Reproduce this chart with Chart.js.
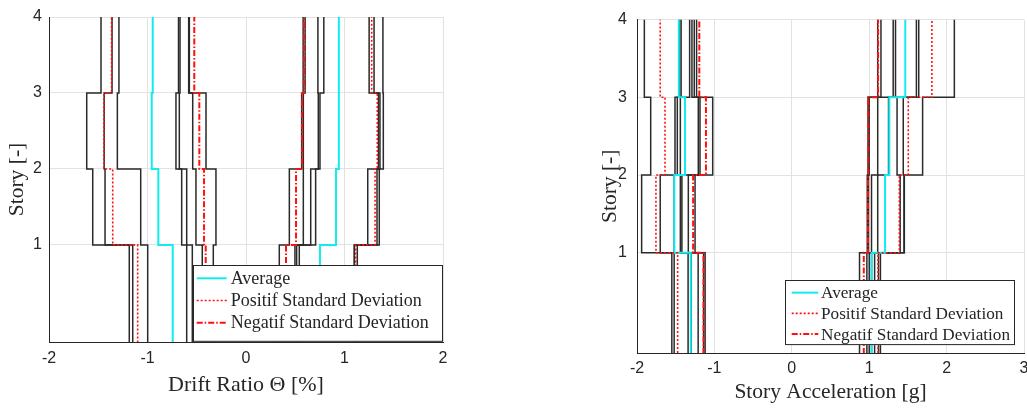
<!DOCTYPE html>
<html>
<head>
<meta charset="utf-8">
<script src="https://cdn.jsdelivr.net/npm/chart.js@4.4.1/dist/chart.umd.min.js"></script>
<style>
html,body{margin:0;padding:0;background:#fff;overflow:hidden;width:1027px;height:408px;}
#wrap{position:relative;width:1027px;height:408px;overflow:hidden;background:#fff;}
canvas{position:absolute;top:0;}
#c1{left:0;width:520px;height:408px;}
#c2{left:520px;width:540px;height:408px;}
</style>
</head>
<body>
<div id="wrap">
<canvas id="c1" width="520" height="408"></canvas>
<canvas id="c2" width="540" height="408"></canvas>
</div>
<script>
// ---------------- data ----------------
const STORY_TICKS = [1, 2, 3, 4];
const STORY_TICK_LABELS = ['1', '2', '3', '4'];
const SEG_BOTTOM = [-0.6, 1, 2, 3];   // story segment lower level
const SEG_TOP = [1, 2, 3, 4];         // story segment upper level
const DRIFT_X_TICKS = [-2, -1, 0, 1, 2];
const ACC_X_TICKS = [-2, -1, 0, 1, 2, 3];
const LEGEND_LABELS = ['Average', 'Positif Standard Deviation', 'Negatif Standard Deviation'];

// Drift ratio [%]; each record: stories 1..4
const driftNegRecords = [
  [-1.185, -1.556, -1.617, -1.472],
  [-1.150, -1.431, -1.440, -1.360],
  [-0.998, -1.069, -1.306, -1.290],
  [-0.602, -0.653, -0.711, -0.685],
  [-0.545, -0.602, -0.677, -0.670],
  [-0.444, -0.508, -0.541, -0.575],
  [-0.332, -0.305, -0.406, -0.582]
];
const driftPosRecords = [
  [0.338, 0.440, 0.565, 0.580],
  [0.497, 0.582, 0.582, 0.600],
  [0.514, 0.657, 0.734, 0.730],
  [0.541, 0.707, 0.751, 0.790],
  [1.100, 1.236, 1.345, 1.250],
  [1.100, 1.330, 1.360, 1.300],
  [1.130, 1.353, 1.394, 1.390]
];
const driftNegAvg = [-0.744, -0.890, -0.957, -0.947];
const driftNegStdPos = [-1.100, -1.353, -1.442, -1.365];
const driftNegStdNeg = [-0.409, -0.426, -0.474, -0.525];
const driftPosAvg = [0.751, 0.914, 0.940, 0.944];
const driftPosStdPos = [1.114, 1.310, 1.333, 1.276];
const driftPosStdNeg = [0.406, 0.508, 0.570, 0.590];

// Story acceleration [g]; each record: stories 1..4
const accNegRecords = [
  [-1.550, -1.940, -1.823, -1.905],
  [-1.520, -1.700, -1.509, -1.450],
  [-1.340, -1.520, -1.479, -1.430],
  [-1.300, -1.440, -1.440, -1.320],
  [-1.210, -1.420, -1.208, -1.290],
  [-1.140, -1.337, -1.186, -1.260],
  [-1.120, -1.250, -1.022, -1.230]
];
const accPosRecords = [
  [0.875, 0.975, 0.985, 1.110],
  [0.970, 0.990, 1.000, 1.152],
  [1.000, 1.030, 1.110, 1.310],
  [1.030, 1.110, 1.250, 1.340],
  [1.070, 1.400, 1.360, 1.610],
  [1.120, 1.450, 1.440, 1.640],
  [1.145, 1.454, 1.690, 2.100]
];
const accNegAvg = [-1.306, -1.518, -1.380, -1.460];
const accNegStdPos = [-1.475, -1.755, -1.638, -1.700];
const accNegStdNeg = [-1.140, -1.275, -1.109, -1.195];
const accPosAvg = [1.032, 1.205, 1.260, 1.466];
const accPosStdPos = [1.115, 1.389, 1.505, 1.810];
const accPosStdNeg = [0.930, 0.985, 0.988, 1.115];

// ---------------- styles ----------------
const INK = '#262626';
const GRID = '#e2e2e2';
const STYLE_REC = {borderColor: '#2a2a2a', borderWidth: 1.5, borderDash: []};
const STYLE_AVG = {borderColor: '#12ecec', borderWidth: 2, borderDash: []};
const STYLE_SDP = {borderColor: '#ff1010', borderWidth: 1.6, borderDash: [2, 2]};
const STYLE_SDN = {borderColor: '#ff1010', borderWidth: 2, borderDash: [6, 2, 1.5, 2]};

function stepPoints(values) {
  const pts = [];
  values.forEach((v, s) => {
    pts.push({x: v, y: SEG_BOTTOM[s]});
    pts.push({x: v, y: SEG_TOP[s]});
  });
  return pts;
}
function ds(values, style, order, legendLabel) {
  return Object.assign({
    data: stepPoints(values), showLine: true, pointRadius: 0, pointHitRadius: 0,
    tension: 0, fill: false, order: order, legendLabel: legendLabel || null
  }, style);
}
function buildDatasets(negRec, posRec, nAvg, nSp, nSn, pAvg, pSp, pSn) {
  const out = [];
  out.push(ds(nAvg, STYLE_AVG, 3, LEGEND_LABELS[0]));
  out.push(ds(nSp, STYLE_SDP, 2, LEGEND_LABELS[1]));
  out.push(ds(nSn, STYLE_SDN, 1, LEGEND_LABELS[2]));
  out.push(ds(pAvg, STYLE_AVG, 3));
  out.push(ds(pSp, STYLE_SDP, 2));
  out.push(ds(pSn, STYLE_SDN, 1));
  negRec.forEach(r => out.push(ds(r, STYLE_REC, 10)));
  posRec.forEach(r => out.push(ds(r, STYLE_REC, 10)));
  return out;
}

const boxLegend = {
  id: 'boxLegend',
  afterDraw(chart, args, o) {
    const ctx = chart.ctx, ca = chart.chartArea;
    const items = chart.data.datasets.filter(d => d.legendLabel);
    ctx.save();
    ctx.font = o.fontSize + 'px "Liberation Serif", serif';
    const tw = Math.max.apply(null, items.map(it => ctx.measureText(it.legendLabel).width));
    const w = o.padL + o.sample + o.gap + tw + o.padR;
    const h = o.padT + o.row * items.length + o.padB;
    const x = Math.round(ca.right - o.offRight - w);
    const y = Math.round(ca.bottom - o.offBottom - h);
    ctx.fillStyle = '#fff';
    ctx.fillRect(x, y, w, h);
    ctx.strokeStyle = INK; ctx.lineWidth = 1;
    ctx.strokeRect(x + 0.5, y + 0.5, Math.round(w) - 1, h - 1);
    items.forEach((it, i) => {
      const cy = y + o.padT + o.row * (i + 0.5);
      ctx.beginPath();
      ctx.setLineDash(it.borderDash || []);
      ctx.strokeStyle = it.borderColor; ctx.lineWidth = it.borderWidth;
      ctx.moveTo(x + o.padL, cy); ctx.lineTo(x + o.padL + o.sample, cy); ctx.stroke();
      ctx.setLineDash([]);
      ctx.fillStyle = INK; ctx.textBaseline = 'middle'; ctx.textAlign = 'left';
      ctx.fillText(it.legendLabel, x + o.padL + o.sample + o.gap, cy + 1);
    });
    ctx.restore();
  }
};

function makeChart(id, cfg) {
  return new Chart(document.getElementById(id), {
    type: 'scatter',
    data: {datasets: cfg.datasets},
    plugins: [boxLegend],
    options: {
      responsive: false, animation: false, devicePixelRatio: 1,
      events: [],
      layout: {padding: cfg.padding},
      plugins: {legend: {display: false}, tooltip: {enabled: false}, boxLegend: cfg.legend},
      scales: {
        x: {
          type: 'linear', position: 'bottom', min: cfg.xTicks[0], max: cfg.xTicks[cfg.xTicks.length - 1],
          afterBuildTicks: ax => { ax.ticks = cfg.xTicks.map(v => ({value: v})); },
          afterFit: ax => { ax.height = cfg.xAxisHeight; },
          ticks: {font: {family: 'Liberation Sans', size: 16}, color: INK, padding: cfg.xTickPad,
                  maxRotation: 0, autoSkip: false, callback: v => String(v)},
          grid: {color: GRID, lineWidth: 1, drawTicks: false},
          border: {display: true, color: INK, width: 1},
          title: {display: true, text: cfg.xTitle, color: INK,
                  font: {family: 'Liberation Serif', size: cfg.xTitleSize},
                  padding: {top: 0, bottom: cfg.xTitlePad}}
        },
        y: {
          type: 'linear', position: 'left', min: cfg.yMin, max: 4,
          afterBuildTicks: ax => { ax.ticks = STORY_TICKS.map(v => ({value: v})); },
          afterFit: ax => { ax.width = cfg.yAxisWidth; },
          ticks: {font: {family: 'Liberation Sans', size: 16}, color: INK, padding: cfg.yTickPad,
                  autoSkip: false, callback: v => STORY_TICK_LABELS[STORY_TICKS.indexOf(v)]},
          grid: {color: GRID, lineWidth: 1, drawTicks: false},
          border: {display: true, color: INK, width: 1},
          title: {display: true, text: 'Story [-]', color: INK,
                  font: {family: 'Liberation Serif', size: 21.5},
                  padding: {top: cfg.yTitlePad, bottom: 0}}
        }
      }
    }
  });
}

makeChart('c1', {
  datasets: buildDatasets(driftNegRecords, driftPosRecords, driftNegAvg, driftNegStdPos, driftNegStdNeg,
                          driftPosAvg, driftPosStdPos, driftPosStdNeg),
  xTicks: DRIFT_X_TICKS, yMin: -0.278,
  padding: {left: 0, top: 17, right: 77, bottom: 0},
  xAxisHeight: 66, yAxisWidth: 49,
  xTickPad: 7.4, yTickPad: 7,
  xTitle: 'Drift Ratio \u0398 [%]', xTitleSize: 22, xTitlePad: 9.8, yTitlePad: 4.1,
  legend: {fontSize: 18, padL: 3.7, sample: 30, gap: 4, padR: 14, padT: 2.2, row: 22.2, padB: 8, offRight: 0, offBottom: 0}
});

makeChart('c2', {
  datasets: buildDatasets(accNegRecords, accPosRecords, accNegAvg, accNegStdPos, accNegStdNeg,
                          accPosAvg, accPosStdPos, accPosStdNeg),
  xTicks: ACC_X_TICKS, yMin: -0.29,
  padding: {left: 67, top: 17, right: 36, bottom: 0},
  xAxisHeight: 55, yAxisWidth: 50,
  xTickPad: 6.4, yTickPad: 10,
  xTitle: 'Story Acceleration [g]', xTitleSize: 21.5, xTitlePad: 3.1, yTitlePad: 10.1,
  legend: {fontSize: 17.2, padL: 6.7, sample: 26.6, gap: 2.7, padR: 4.5, padT: 2.3, row: 20.7, padB: 0.7, offRight: 9, offBottom: 8}
});
</script>
</body>
</html>
